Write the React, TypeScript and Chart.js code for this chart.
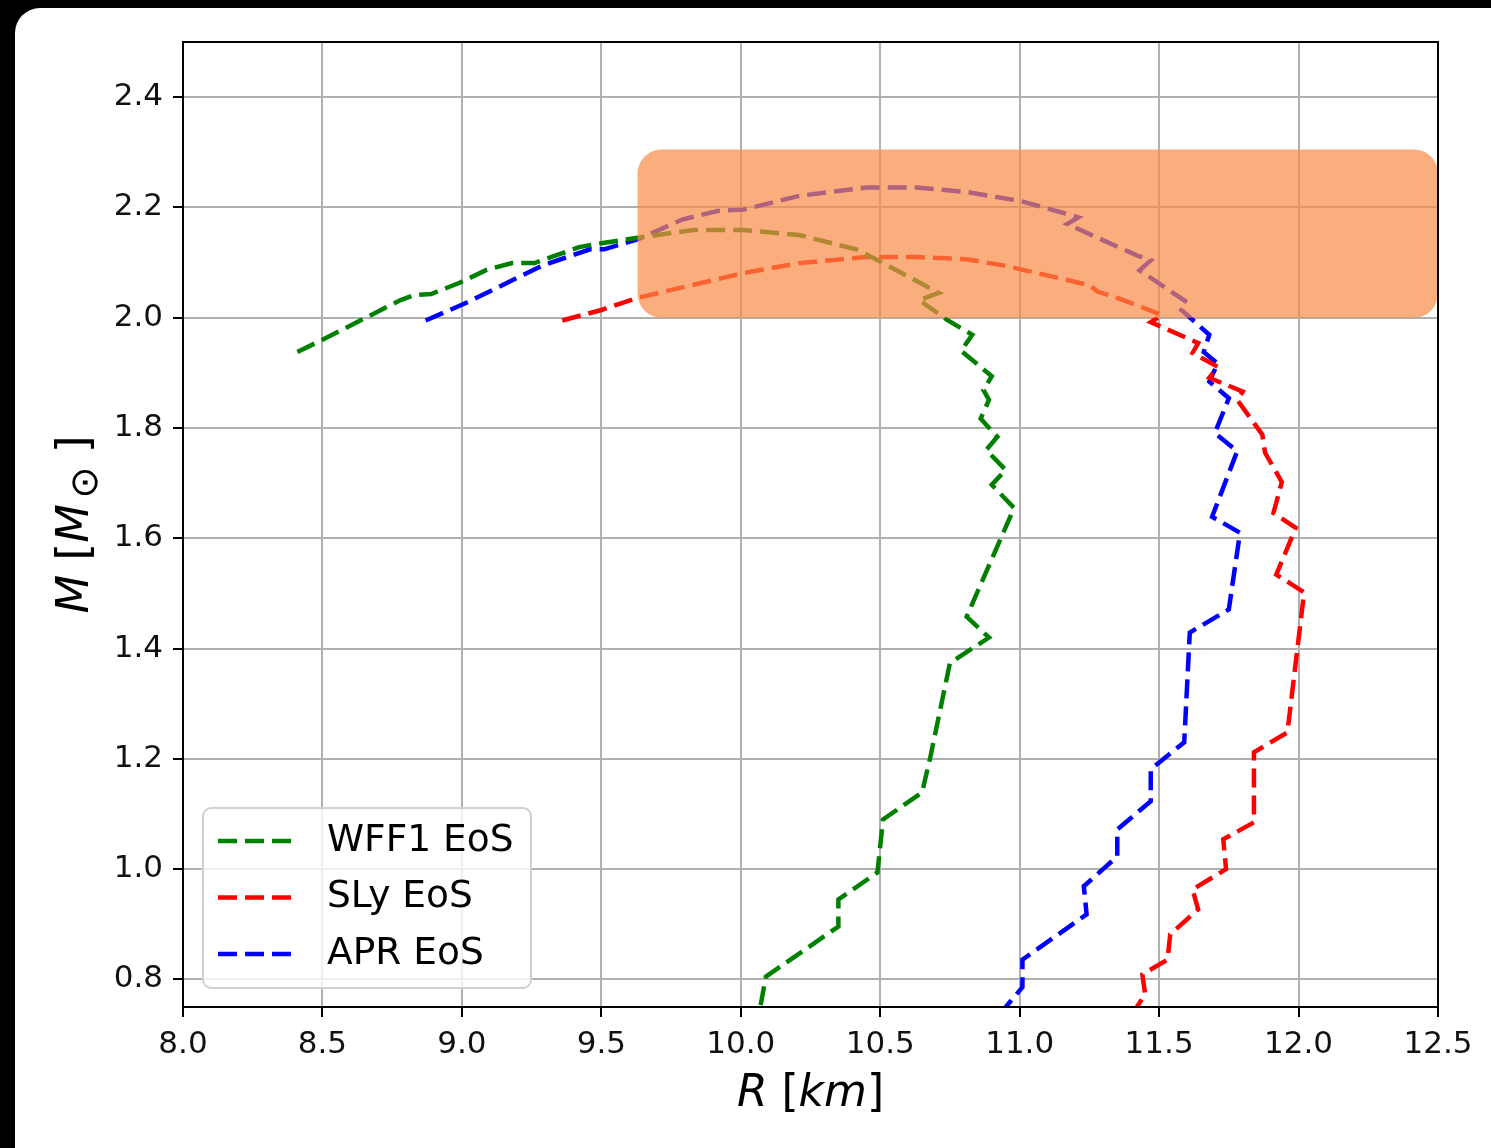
import React, { useEffect, useRef } from "react";
import { Chart, registerables } from "chart.js";

Chart.register(...registerables);

// Mass–radius curves (R in km, M in solar masses)
const WFF1_R = [8.41, 8.50, 8.78, 8.83, 8.89, 8.99, 9.09, 9.18, 9.26, 9.42, 9.50, 9.63, 9.83, 10.01, 10.21, 10.42, 10.57, 10.71, 10.64, 10.74, 10.83, 10.79, 10.90, 10.87, 10.89, 10.86, 10.92, 10.88, 10.95, 10.90, 10.98, 10.81, 10.89, 10.75, 10.68, 10.65, 10.51, 10.49, 10.35, 10.35, 10.09, 10.07];
const WFF1_M = [1.938, 1.960, 2.032, 2.041, 2.043, 2.063, 2.087, 2.099, 2.099, 2.128, 2.135, 2.145, 2.159, 2.159, 2.150, 2.123, 2.083, 2.045, 2.032, 1.996, 1.969, 1.940, 1.894, 1.869, 1.851, 1.817, 1.784, 1.760, 1.724, 1.697, 1.655, 1.458, 1.420, 1.374, 1.204, 1.139, 1.090, 0.994, 0.945, 0.896, 0.805, 0.750];

const SLY_R = [9.36, 9.50, 9.63, 10.01, 10.21, 10.45, 10.63, 10.81, 10.95, 11.25, 11.28, 11.34, 11.51, 11.47, 11.64, 11.62, 11.71, 11.68, 11.80, 11.78, 11.87, 11.88, 11.94, 11.91, 11.99, 11.92, 12.02, 11.96, 11.84, 11.84, 11.73, 11.74, 11.62, 11.64, 11.54, 11.53, 11.44, 11.45, 11.42];
const SLY_M = [1.995, 2.014, 2.036, 2.081, 2.099, 2.110, 2.110, 2.106, 2.094, 2.059, 2.047, 2.038, 2.005, 1.992, 1.954, 1.936, 1.911, 1.891, 1.866, 1.851, 1.788, 1.755, 1.702, 1.646, 1.619, 1.534, 1.502, 1.248, 1.212, 1.085, 1.054, 1.000, 0.963, 0.927, 0.882, 0.836, 0.809, 0.773, 0.750];

const APR_R = [8.87, 9.02, 9.29, 9.46, 9.51, 9.63, 9.79, 9.92, 10.01, 10.21, 10.45, 10.63, 10.81, 11.00, 11.15, 11.21, 11.17, 11.42, 11.47, 11.43, 11.60, 11.58, 11.68, 11.66, 11.71, 11.68, 11.75, 11.70, 11.78, 11.69, 11.79, 11.75, 11.61, 11.59, 11.47, 11.47, 11.35, 11.35, 11.23, 11.24, 11.01, 11.01, 10.95];
const APR_M = [1.995, 2.028, 2.095, 2.124, 2.124, 2.142, 2.178, 2.194, 2.196, 2.221, 2.236, 2.236, 2.228, 2.212, 2.191, 2.182, 2.170, 2.113, 2.104, 2.086, 2.028, 2.014, 1.969, 1.938, 1.917, 1.884, 1.854, 1.791, 1.758, 1.639, 1.610, 1.471, 1.429, 1.230, 1.181, 1.123, 1.072, 1.023, 0.969, 0.918, 0.836, 0.786, 0.750];

const SERIES_LABELS = ["WFF1 EoS", "SLy EoS", "APR EoS"];
const SERIES_COLORS = ["#008000", "#ff0000", "#0000ff"];

// Axis ranges and ticks
const X_RANGE = [8.0, 12.5];
const Y_RANGE = [0.75, 2.5];
const X_TICKS = [8.0, 8.5, 9.0, 9.5, 10.0, 10.5, 11.0, 11.5, 12.0, 12.5];
const Y_TICKS = [0.8, 1.0, 1.2, 1.4, 1.6, 1.8, 2.0, 2.2, 2.4];

// Observed maximum-mass band
const BAND_R = [9.63, 12.5];
const BAND_M = [2.0, 2.305];

const FONT = "'DejaVu Sans', 'Liberation Sans', sans-serif";
const DASH = [19, 8];
const LINE_W = 4.5;

type Run = { t: string; it?: boolean; scale?: number; dy?: number; dx?: number };

function runsWidth(ctx: CanvasRenderingContext2D, runs: Run[], size: number) {
  let w = 0;
  for (const r of runs) {
    const s = size * (r.scale ?? 1);
    ctx.font = `${r.it ? "italic " : ""}${s}px ${FONT}`;
    w += ctx.measureText(r.t).width + (r.dx ?? 0) * size;
  }
  return w;
}

function drawRuns(ctx: CanvasRenderingContext2D, runs: Run[], size: number) {
  // draws centred on (0,0), baseline offset so caps are centred vertically
  const w = runsWidth(ctx, runs, size);
  let x = -w / 2;
  const base = size * 0.36;
  ctx.textBaseline = "alphabetic";
  ctx.textAlign = "left";
  for (const r of runs) {
    const s = size * (r.scale ?? 1);
    ctx.font = `${r.it ? "italic " : ""}${s}px ${FONT}`;
    x += (r.dx ?? 0) * size;
    ctx.fillText(r.t, x, base + (r.dy ?? 0) * size);
    x += ctx.measureText(r.t).width;
  }
}

const overlayPlugin = {
  id: "overlay",
  afterDatasetsDraw(chart: any) {
    const { ctx, chartArea: a, scales } = chart;
    const xs = scales.x;
    const ys = scales.y;

    // translucent band
    const bx0 = xs.getPixelForValue(BAND_R[0]);
    const bx1 = xs.getPixelForValue(BAND_R[1]);
    const by0 = ys.getPixelForValue(BAND_M[1]);
    const by1 = ys.getPixelForValue(BAND_M[0]);
    ctx.save();
    ctx.beginPath();
    ctx.roundRect(bx0, by0, bx1 - bx0, by1 - by0, 24);
    ctx.fillStyle = "rgba(250,140,70,0.7)";
    ctx.fill();
    ctx.restore();

    // axes frame
    ctx.save();
    ctx.strokeStyle = "#000";
    ctx.lineWidth = 2;
    ctx.strokeRect(a.left, a.top, a.right - a.left, a.bottom - a.top);
    ctx.restore();

    // legend
    const lx = a.left + 20;
    const lw = 328;
    const lh = 180;
    const ly = a.bottom - 19 - lh;
    ctx.save();
    ctx.beginPath();
    ctx.roundRect(lx, ly, lw, lh, 8);
    ctx.fillStyle = "rgba(255,255,255,0.8)";
    ctx.fill();
    ctx.strokeStyle = "#d0d0d0";
    ctx.lineWidth = 2;
    ctx.stroke();
    SERIES_LABELS.forEach((label, i) => {
      const cy = ly + 33 + i * 56.5;
      ctx.beginPath();
      ctx.setLineDash(DASH);
      ctx.strokeStyle = SERIES_COLORS[i];
      ctx.lineWidth = LINE_W;
      ctx.moveTo(lx + 15, cy);
      ctx.lineTo(lx + 90, cy);
      ctx.stroke();
      ctx.setLineDash([]);
      ctx.fillStyle = "#000";
      ctx.font = `37.5px ${FONT}`;
      ctx.textBaseline = "middle";
      ctx.textAlign = "left";
      ctx.fillText(label, lx + 124, cy);
    });
    ctx.restore();

    // axis titles
    ctx.save();
    ctx.fillStyle = "#000";
    ctx.translate((a.left + a.right) / 2, 1090);
    drawRuns(ctx, [{ t: "R", it: true }, { t: " [" }, { t: "km", it: true }, { t: "]" }], 44);
    ctx.restore();

    ctx.save();
    ctx.fillStyle = "#000";
    ctx.translate(72, (a.top + a.bottom) / 2);
    ctx.rotate(-Math.PI / 2);
    drawRuns(
      ctx,
      [
        { t: "M", it: true },
        { t: " [" },
        { t: "M", it: true },
        { t: "⊙", scale: 0.85, dy: 0.2, dx: 0.12 },
        { t: "]", dx: 0.3 },
      ],
      45
    );
    ctx.restore();
  },
};

function toPoints(rs: number[], ms: number[]) {
  return rs.map((r, i) => ({ x: r, y: ms[i] }));
}

export default function App() {
  const canvasRef = useRef<HTMLCanvasElement | null>(null);

  useEffect(() => {
    const canvas = canvasRef.current;
    if (!canvas) return;
    const series = [toPoints(WFF1_R, WFF1_M), toPoints(SLY_R, SLY_M), toPoints(APR_R, APR_M)];
    const chart = new Chart(canvas, {
      type: "line",
      data: {
        datasets: series.map((pts, i) => ({
          label: SERIES_LABELS[i],
          data: pts,
          borderColor: SERIES_COLORS[i],
          backgroundColor: SERIES_COLORS[i],
          borderWidth: LINE_W,
          borderDash: DASH,
          pointRadius: 0,
          tension: 0,
          fill: false,
        })),
      },
      options: {
        responsive: false,
        animation: false,
        devicePixelRatio: 1,
        layout: { padding: { left: 0, right: 53, top: 42, bottom: 0 } },
        plugins: { legend: { display: false }, tooltip: { enabled: false } },
        scales: {
          x: {
            type: "linear",
            min: X_RANGE[0],
            max: X_RANGE[1],
            afterBuildTicks: (s: any) => {
              s.ticks = X_TICKS.map((v) => ({ value: v }));
            },
            afterFit: (s: any) => {
              s.height = 141;
            },
            ticks: {
              autoSkip: false,
              maxRotation: 0,
              padding: 9,
              color: "#111",
              font: { family: FONT, size: 31 },
              callback: (v: any) => Number(v).toFixed(1),
            },
            grid: { color: "#b0b0b0", lineWidth: 2, tickColor: "#000", tickLength: 10, tickWidth: 2 },
            border: { display: false },
          },
          y: {
            type: "linear",
            min: Y_RANGE[0],
            max: Y_RANGE[1],
            afterBuildTicks: (s: any) => {
              s.ticks = Y_TICKS.map((v) => ({ value: v }));
            },
            afterFit: (s: any) => {
              s.width = 183;
            },
            ticks: {
              autoSkip: false,
              padding: 10,
              color: "#111",
              font: { family: FONT, size: 31 },
              callback: (v: any) => Number(v).toFixed(1),
            },
            grid: { color: "#b0b0b0", lineWidth: 2, tickColor: "#000", tickLength: 10, tickWidth: 2 },
            border: { display: false },
          },
        },
      },
      plugins: [overlayPlugin],
    });
    return () => chart.destroy();
  }, []);

  return (
    <div style={{ position: "absolute", left: 0, top: 0, width: 1491, height: 1148, background: "#000", overflow: "hidden" }}>
      <div style={{ position: "absolute", left: 15, top: 8, width: 1520, height: 1180, background: "#fff", borderRadius: 25 }} />
      <canvas ref={canvasRef} width={1491} height={1148} style={{ position: "absolute", left: 0, top: 0, width: 1491, height: 1148 }} />
    </div>
  );
}
